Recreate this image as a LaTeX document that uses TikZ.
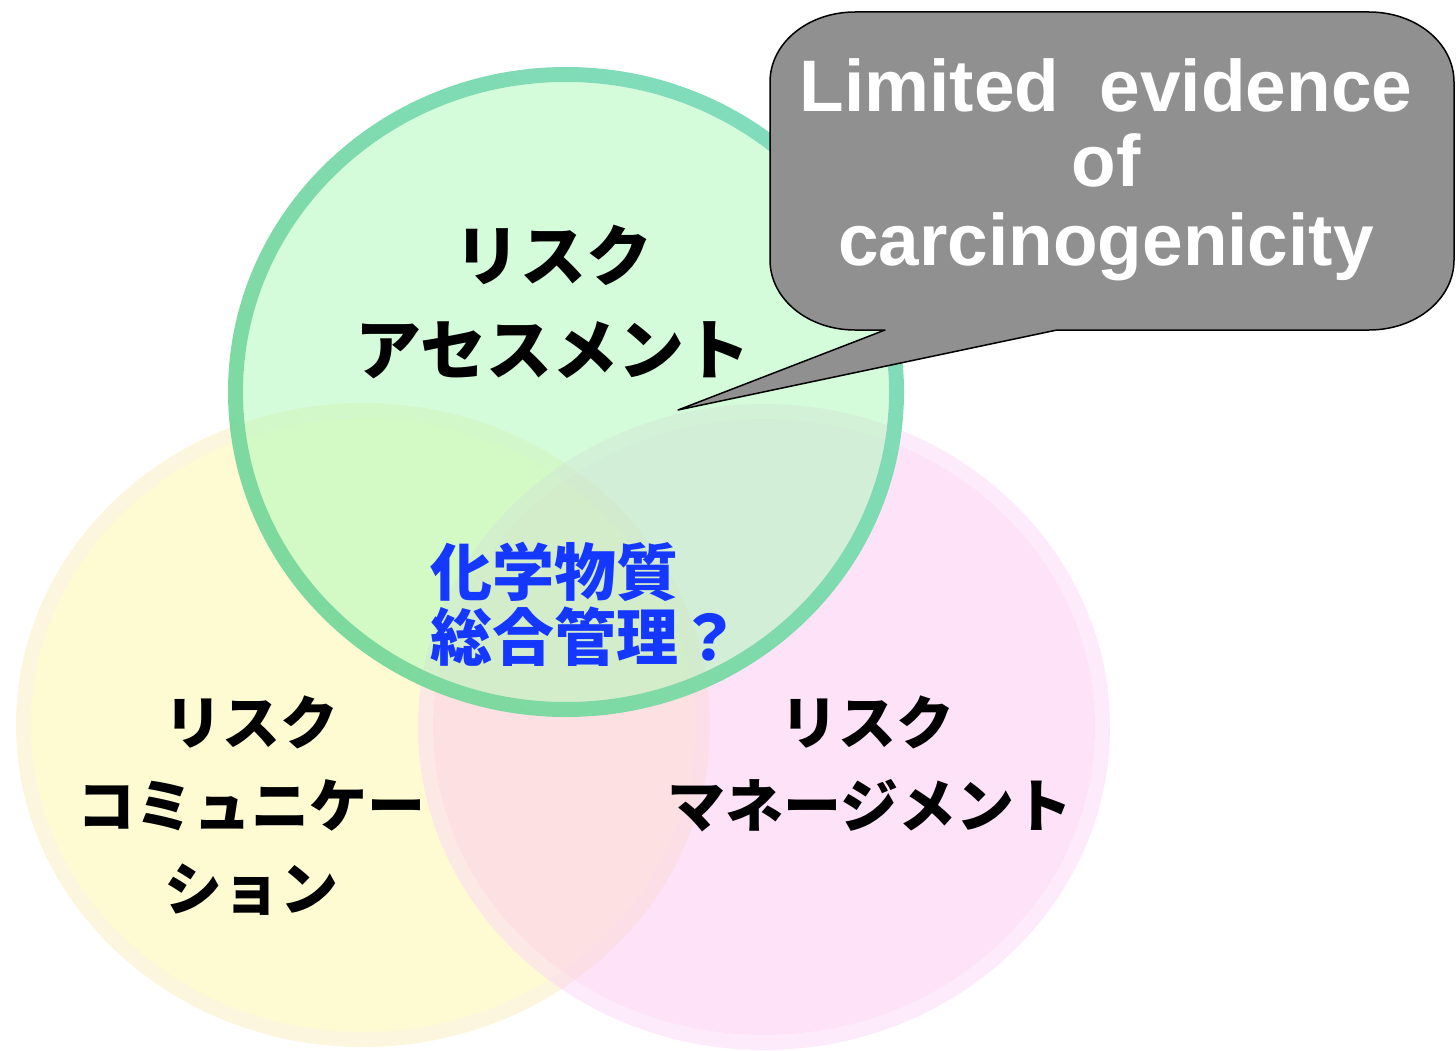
\documentclass[tikz,border=0pt]{standalone}
\usepackage{fontspec}
\setmainfont{Liberation Sans}
\newfontfamily\jp{Noto Sans CJK JP}
\definecolor{yelF}{RGB}{253,247,167}
\definecolor{yelR}{RGB}{249,237,189}
\definecolor{pinkF}{RGB}{253,199,241}
\definecolor{pinkR}{RGB}{251,213,245}
\definecolor{grnF}{RGB}{169,249,181}
\definecolor{ringT}{RGB}{128,220,188}
\definecolor{ringG}{RGB}{126,217,158}
\definecolor{jpblue}{RGB}{20,56,255}
\definecolor{callgray}{RGB}{144,144,144}
\begin{document}
\begin{tikzpicture}[x=1pt,y=-1pt,
  jpk/.style={font=\jp\bfseries\fontsize{#1}{#1}\selectfont, text=black, inner sep=0pt, anchor=base},
  jpb/.style={font=\jp\bfseries\fontsize{#1}{#1}\selectfont, text=jpblue, inner sep=0pt, anchor=base west},
  en/.style={font=\bfseries\fontsize{73}{73}\selectfont, text=white, inner sep=0pt, anchor=base},
  callout/.style={fill=callgray, draw=black, line width=1.5pt, line join=round}]
\useasboundingbox (0,0) rectangle (1456,1051);
% yellow circle
\fill[yelR, fill opacity=0.5, even odd rule] (363,725) ellipse [x radius=347, y radius=322] (363,725) ellipse [x radius=332, y radius=307];
\fill[yelF, fill opacity=0.5] (363,725) ellipse [x radius=332, y radius=307];
% pink circle
\fill[pinkR, fill opacity=0.5, even odd rule] (764,727) ellipse [x radius=346, y radius=323] (764,727) ellipse [x radius=331, y radius=308];
\fill[pinkF, fill opacity=0.5] (764,727) ellipse [x radius=331, y radius=308];
% green circle
\fill[grnF, fill opacity=0.5] (566,392) ellipse [x radius=323, y radius=310];
\shade[even odd rule, top color=ringT, middle color=ringT, bottom color=ringG, shading angle=-45] (566,392) ellipse [x radius=338, y radius=325] (566,392) ellipse [x radius=323, y radius=310];
% callout
\coordinate (tip) at (678,410);
\draw[callout] (885,330) -- (tip) -- (1057,330) -- (1369,330)
  .. controls (1416,330) and (1454,299) .. (1454,260) -- (1454,82)
  .. controls (1454,43) and (1416,12) .. (1369,12) -- (855,12)
  .. controls (808,12) and (770,43) .. (770,82) -- (770,260)
  .. controls (770,299) and (808,330) .. (855,330) -- cycle;
\node[en] (e1) at (1106,112) {Limited\ \ evidence};
\node[en] (e2) at (1106,187) {of};
\node[en] (e3) at (1106,265) {carcinogenicity};
% texts
\node[jpk=66] (ra1) at (553,280) {リスク};
\node[jpk=66] (ra2) at (553,374) {アセスメント};
\node[jpk=58] (rc1) at (251,744) {リスク};
\node[jpk=58] (rc2) at (251,827) {コミュニケー};
\node[jpk=58] (rc3) at (251,910) {ション};
\node[jpk=58] (rm1) at (867,744) {リスク};
\node[jpk=58] (rm2) at (870,827) {マネージメント};
\node[jpb=62] (c1) at (430,595) {化学物質};
\node[jpb=62] (c2) at (430,660) {総合管理？};
\end{tikzpicture}
\end{document}
